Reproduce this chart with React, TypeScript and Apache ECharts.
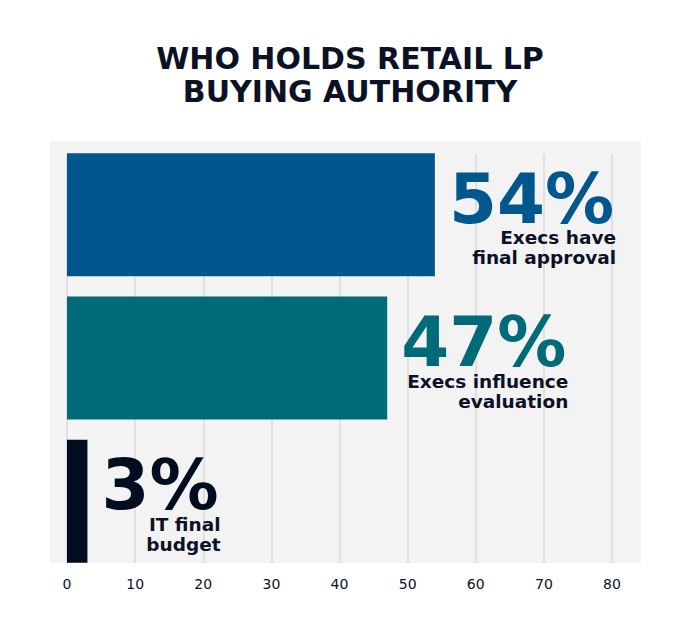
import * as echarts from "echarts";
import React, { useEffect, useRef } from "react";

const titleText = "WHO HOLDS RETAIL LP\nBUYING AUTHORITY";
const categories = [
  "Execs have\nfinal approval",
  "Execs influence\nevaluation",
  "IT final\nbudget",
];
const shares = [54, 47, 3];
const barColors = ["#00578e", "#006a78", "#000c1f"];
const xTicks = [0, 10, 20, 30, 40, 50, 60, 70, 80];

const FONT = "DejaVu Sans";
const NAVY = "#0b1226";
const BIG_SIZE = 69;
const SUB_SIZE = 18.5;

// width of a text in the browser, so the caption can end under the big figure
const measure = (text: string, size: number) => {
  const ctx = document.createElement("canvas").getContext("2d");
  if (!ctx) return 0;
  ctx.font = `bold ${size}px "${FONT}"`;
  return ctx.measureText(text).width;
};

const App: React.FC = () => {
  const chartRef = useRef<HTMLDivElement | null>(null);

  useEffect(() => {
    const chart = echarts.init(chartRef.current, undefined, { renderer: "svg" });

    chart.setOption({
      animation: false,
      backgroundColor: "#ffffff",
      textStyle: { fontFamily: FONT },
      title: {
        text: titleText,
        left: "center",
        top: 37,
        textStyle: {
          fontFamily: FONT,
          fontSize: 30,
          lineHeight: 33,
          fontWeight: "bold",
          color: NAVY,
        },
      },
      graphic: [
        {
          type: "rect",
          z: -1,
          silent: true,
          shape: { x: 50, y: 141, width: 591, height: 422 },
          style: { fill: "#f3f3f3" },
        },
      ],
      grid: [
        { left: 67, right: 88, top: 154, bottom: 69 },
        { left: 67, right: 88, top: 143, bottom: 59 },
      ],
      xAxis: [
        {
          type: "value",
          gridIndex: 0,
          min: 0,
          max: xTicks[xTicks.length - 1],
          interval: 10,
          axisLine: { show: false },
          axisTick: { show: false },
          axisLabel: {
            margin: 14,
            fontSize: 14,
            color: NAVY,
            fontFamily: FONT,
          },
          splitLine: { lineStyle: { color: "#dadada", width: 1.5 } },
        },
        {
          type: "value",
          gridIndex: 1,
          min: 0,
          max: xTicks[xTicks.length - 1],
          show: false,
          splitLine: { show: false },
        },
      ],
      yAxis: [
        {
          type: "category",
          gridIndex: 0,
          data: categories,
          show: false,
        },
        {
          type: "category",
          gridIndex: 1,
          data: categories,
          inverse: true,
          show: false,
        },
      ],
      series: [
        {
          type: "bar",
          xAxisIndex: 1,
          yAxisIndex: 1,
          barWidth: 123,
          barGap: "-100%",
          data: shares.map((v, i) => ({
            value: v,
            itemStyle: { color: barColors[i] },
            label: {
              show: true,
              position: "right",
              distance: 14,
              offset: [0, -16],
              formatter: `${v}%`,
              fontFamily: FONT,
              fontSize: BIG_SIZE,
              fontWeight: "bold",
              lineHeight: BIG_SIZE,
              color: barColors[i],
            },
          })),
        },
        {
          // captions under the big figures, ending where the figure ends
          type: "bar",
          xAxisIndex: 1,
          yAxisIndex: 1,
          barWidth: 123,
          barGap: "-100%",
          silent: true,
          itemStyle: { color: "transparent" },
          data: shares.map((v, i) => {
            const lines = categories[i].split("\n");
            const bigW = measure(`${v}%`, BIG_SIZE);
            const subW = Math.max(...lines.map((l) => measure(l, SUB_SIZE)));
            return {
              value: v,
              label: {
                show: true,
                position: "right",
                distance: 14,
                offset: [bigW - subW + 2, 33],
                formatter: lines.map((l) => `{sub|${l}}`).join("\n"),
                rich: {
                  sub: {
                    fontFamily: FONT,
                    fontSize: SUB_SIZE,
                    fontWeight: "bold",
                    lineHeight: 20,
                    color: NAVY,
                    align: "right",
                  },
                },
              },
            };
          }),
        },
      ],
    });

    return () => {
      chart.dispose();
    };
  }, []);

  return (
    <div
      ref={chartRef}
      style={{ position: "absolute", left: 0, top: 0, width: 700, height: 632 }}
    ></div>
  );
};

export default App;
